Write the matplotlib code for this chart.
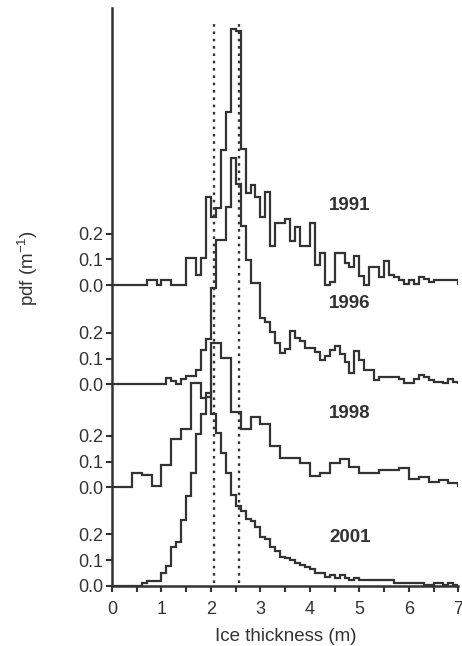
import numpy as np
import matplotlib
matplotlib.use("Agg")
import matplotlib.pyplot as plt

plt.rcParams['font.family'] = ['Liberation Sans', 'DejaVu Sans']
plt.rcParams['axes.unicode_minus'] = False
plt.rcParams['mathtext.default'] = 'regular'

# bin edges (m), 0.1 m bins
edges = np.linspace(0, 7, 71)

# pdf values, one value per 0.1 m bin
pdf_1991 = [0, 0, 0, 0, 0, 0, 0, 0.019, 0.019, 0,
            0.019, 0.019, 0, 0, 0, 0.106, 0.106, 0.038, 0.106, 0.344,
            0.266, 0.298, 0.525, 0.674, 0.998, 0.99, 0.53, 0.357, 0.39, 0.344,
            0.266, 0.363, 0.152, 0.243, 0.243, 0.256, 0.171, 0.227, 0.152, 0.152,
            0.24, 0.078, 0.123, 0, 0.013, 0.126, 0.126, 0.084, 0.069, 0.113,
            0.035, 0, 0.069, 0.069, 0.032, 0.095, 0.039, 0.032, 0.019, 0.004,
            0.019, 0.004, 0.03, 0.022, 0.013, 0.019, 0.019, 0.019, 0.019, 0.019]

pdf_1996 = [0, 0, 0, 0, 0, 0, 0, 0, 0, 0,
            0, 0.026, 0.013, 0, 0.021, 0.034, 0.034, 0.056, 0.132, 0.177,
            0.375, 0.56, 0.56, 0.69, 0.88, 0.78, 0.615, 0.485, 0.395, 0.395,
            0.257, 0.244, 0.205, 0.16, 0.12, 0.138, 0.207, 0.181, 0.168, 0.142,
            0.14, 0.127, 0.093, 0.11, 0.132, 0.15, 0.116, 0.088, 0.045, 0.131,
            0.095, 0.056, 0.056, 0.017, 0.03, 0.03, 0.03, 0.03, 0.02, 0.006,
            0.006, 0.02, 0.036, 0.03, 0.017, 0.008, 0.008, 0.003, 0.02, 0.008]

pdf_1998 = [0, 0, 0, 0, 0.057, 0.057, 0.048, 0.048, 0.006, 0.006,
            0.087, 0.087, 0.188, 0.188, 0.227, 0.227, 0.405, 0.405, 0.346, 0.353,
            0.56, 0.56, 0.502, 0.502, 0.292, 0.292, 0.226, 0.226, 0.273, 0.273,
            0.246, 0.246, 0.161, 0.161, 0.113, 0.113, 0.113, 0.113, 0.093, 0.093,
            0.045, 0.045, 0.054, 0.054, 0.093, 0.093, 0.112, 0.112, 0.078, 0.078,
            0.054, 0.054, 0.054, 0.054, 0.067, 0.067, 0.067, 0.067, 0.076, 0.076,
            0.031, 0.031, 0.04, 0.04, 0.022, 0.022, 0.027, 0.027, 0.016, 0.016]

pdf_2001 = [0, 0, 0, 0, 0, 0, 0.009, 0.02, 0.02, 0.02,
            0.048, 0.077, 0.152, 0.172, 0.256, 0.35, 0.437, 0.59, 0.67, 0.75,
            0.67, 0.593, 0.515, 0.437, 0.353, 0.31, 0.29, 0.258, 0.25, 0.23,
            0.19, 0.18, 0.152, 0.135, 0.112, 0.106, 0.1, 0.089, 0.08, 0.071,
            0.066, 0.05, 0.05, 0.035, 0.041, 0.032, 0.04, 0.031, 0.022, 0.029,
            0.022, 0.022, 0.022, 0.022, 0.022, 0.022, 0.022, 0.012, 0.012, 0.012,
            0.012, 0.012, 0.012, 0.004, 0.004, 0.012, 0.012, 0.004, 0.012, 0.004]

years = ["1991", "1996", "1998", "2001"]
series = [pdf_1991, pdf_1996, pdf_1998, pdf_2001]
offsets = [1.17, 0.784, 0.383, 0.0]   # vertical shift of each curve
label_y = [1.48, 1.099, 0.671, 0.187]

# dotted reference thicknesses (m)
ref_lines = [2.06, 2.56]

col = "#333333"

fig = plt.figure(figsize=(4.62, 6.46), dpi=100)
ax = fig.add_axes([0.2424, 0.0933, 0.7496, 0.8939])

for vals, off, yr, ly in zip(series, offsets, years, label_y):
    ax.stairs(np.array(vals) + off, edges, baseline=off, color=col, lw=1.6)
    ax.text(4.81, ly, yr, ha="center", va="center", fontsize=13.5,
            fontweight="bold", color=col)

for xr in ref_lines:
    ax.plot([xr, xr], [0.01, 2.2], color=col, lw=1.7, linestyle=(0, (1.1, 2.0)))

ax.set_xlim(0, 7)
ax.set_ylim(0, 2.247)

ax.set_xticks(np.arange(0, 8, 1))
ax.set_xticks(np.arange(0.5, 7, 1), minor=True)
yt = []
for off in offsets:
    yt += [off, off + 0.1, off + 0.2]
ax.set_yticks(yt)
ax.set_yticklabels(["0.0", "0.1", "0.2"] * len(offsets))

ax.tick_params(axis="both", which="both", direction="out", length=4, width=1.5,
               color=col, labelcolor=col, labelsize=13, pad=2)
ax.tick_params(axis="x", pad=7)

for s in ["top", "right"]:
    ax.spines[s].set_visible(False)
for s in ["left", "bottom"]:
    ax.spines[s].set_linewidth(1.8)
    ax.spines[s].set_color(col)

fig.text(0.618, 0.014, "Ice thickness (m)", ha="center", va="center",
         fontsize=13.5, color=col)
fig.text(0.06, 0.585, "pdf (m$^{-1}$)", ha="center", va="center",
         rotation=90, fontsize=13.5, color=col)

fig.savefig("out.png", dpi=100)
